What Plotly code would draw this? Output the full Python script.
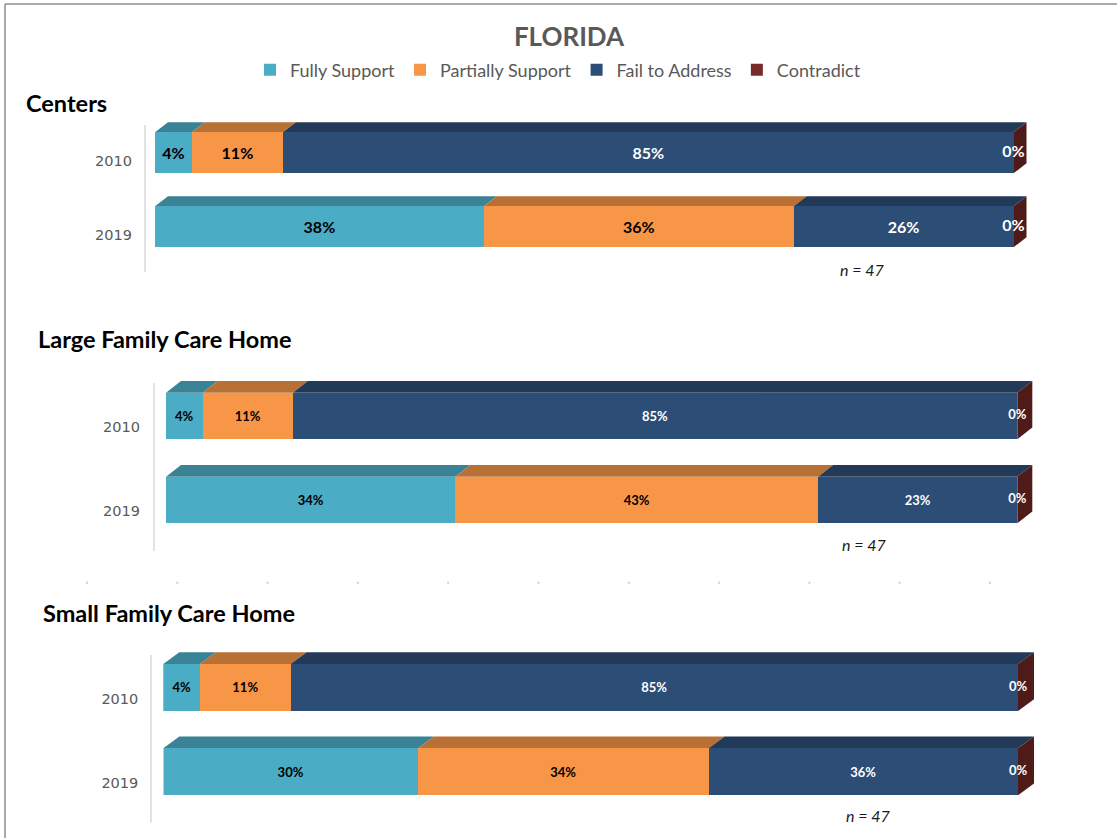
import plotly.graph_objects as go

# ---------------- data ----------------
panels = ["Centers", "Large Family Care Home", "Small Family Care Home"]
years = ["2010", "2019"]
series = ["Fully Support", "Partially Support", "Fail to Address", "Contradict"]
fully_support = [[4.3, 38.3], [4.3, 34.0], [4.3, 29.8]]
partially_support = [[10.6, 36.1], [10.6, 42.6], [10.6, 34.0]]
fail_to_address = [[85.1, 25.6], [85.1, 23.4], [85.1, 36.2]]
contradict = [[0, 0], [0, 0], [0, 0]]
sample_size = [47, 47, 47]

values = [fully_support, partially_support, fail_to_address, contradict]

# ---------------- style ----------------
front_colors = ["#4BACC6", "#F79646", "#2C4D75", "#772C2A"]
top_colors = ["#3A8397", "#B97035", "#223A58", "#4E1B18"]
label_colors = ["black", "black", "white", "white"]

W, H = 1117, 838
XMAX = 104
Y_BOTTOM, Y_TOP = 1.55, -0.75
ypos = [0, 1]

geo = [
    dict(x0=155, pxu=8.585, yc=152.8, pyu=74.0, bar=41, dx=13, dy=10, lab=16, toff=0.11,
         axis_x=145, axis_y=(125, 272), title_xy=(24, 103), n_xy=(862, 270), standoff=22),
    dict(x0=166, pxu=8.513, yc=416.0, pyu=84.0, bar=46.6, dx=15, dy=11.7, lab=13, toff=0.127,
         axis_x=154, axis_y=(383, 551), title_xy=(36, 339), n_xy=(865, 544), standoff=25),
    dict(x0=163.3, pxu=8.547, yc=687.5, pyu=84.2, bar=47, dx=16, dy=11.7, lab=13, toff=0.133,
         axis_x=151, axis_y=(655, 822.7), title_xy=(41, 613), n_xy=(868, 815), standoff=24),
]

fig = go.Figure()
layout = dict(
    width=W, height=H, margin=dict(l=0, r=0, t=0, b=0),
    paper_bgcolor="white", plot_bgcolor="white",
    barmode="stack", hovermode=False,
    title=dict(text="<b>FLORIDA</b>", x=569 / W, y=1 - 37 / H, xanchor="center", yanchor="middle",
               font=dict(family="Lato", size=26, color="#595959")),
    legend=dict(orientation="h", x=558 / W, xanchor="center", y=1 - 70 / H, yanchor="middle",
                font=dict(family="Lato", size=18, color="#595959"), bgcolor="rgba(0,0,0,0)",
                traceorder="normal", itemclick=False, itemdoubleclick=False),
)
shapes = []
annotations = []

for i, g in enumerate(geo):
    sfx = "" if i == 0 else str(i + 1)
    xa, ya = "x" + sfx, "y" + sfx
    w = g["bar"] / g["pyu"]
    dxu = g["dx"] / g["pxu"]
    dyu = g["dy"] / g["pyu"]

    layout["xaxis" + sfx] = dict(
        domain=[g["x0"] / W, (g["x0"] + XMAX * g["pxu"]) / W], range=[0, XMAX],
        anchor=ya, showgrid=False, zeroline=False, showticklabels=False, showline=False,
        fixedrange=True)
    layout["yaxis" + sfx] = dict(
        domain=[1 - (g["yc"] + Y_BOTTOM * g["pyu"]) / H, 1 - (g["yc"] + Y_TOP * g["pyu"]) / H],
        range=[Y_BOTTOM, Y_TOP], anchor=xa, showgrid=False, zeroline=False, showline=False,
        tickvals=[p + g["toff"] for p in ypos], ticktext=years, ticks="",
        ticklabelstandoff=g["standoff"],
        tickfont=dict(family="DejaVu Sans", size=14.5, color="#595959"), fixedrange=True)

    cum = [0.0, 0.0]
    for j, name in enumerate(series):
        vals = values[j][i]
        bar_kw = dict(
            x=vals, y=ypos, orientation="h", width=w, name=name, legendgroup=name,
            showlegend=(i == 0), marker=dict(color=front_colors[j], line=dict(width=0)),
            xaxis=xa, yaxis=ya)
        if j < 3:
            bar_kw.update(texttemplate="%{x:.0f}%", textposition="inside",
                          insidetextanchor="middle", textangle=0, constraintext="none",
                          insidetextfont=dict(family="Lato", size=g["lab"], color=label_colors[j],
                                              weight="bold"))
        else:
            bar_kw.update(textposition="none")
        fig.add_trace(go.Bar(**bar_kw))

        # top faces (3D look), computed from the data
        for k, yv in enumerate(ypos):
            a, b = cum[k], cum[k] + vals[k]
            yt = yv - w / 2
            if b > a:
                shapes.append(dict(
                    type="path", xref=xa, yref=ya, layer="below", line=dict(width=0),
                    fillcolor=top_colors[j],
                    path=f"M {a},{yt} L {b},{yt} L {b + dxu},{yt - dyu} L {a + dxu},{yt - dyu} Z"))
            cum[k] = b

    # right side faces (Contradict colour) and Contradict labels at bar end
    for k, yv in enumerate(ypos):
        e = cum[k]
        yt, yb = yv - w / 2, yv + w / 2
        shapes.append(dict(
            type="path", xref=xa, yref=ya, layer="below", line=dict(width=0),
            fillcolor=top_colors[3],
            path=f"M {e},{yt} L {e + dxu},{yt - dyu} L {e + dxu},{yb - dyu} L {e},{yb} Z"))
    fig.add_trace(go.Scatter(
        x=cum, y=ypos, mode="text", customdata=contradict[i], texttemplate="%{customdata:.0f}%",
        textposition="middle center", showlegend=False, xaxis=xa, yaxis=ya, cliponaxis=False,
        textfont=dict(family="Lato", size=g["lab"], color="white", weight="bold")))

    # vertical category axis line
    shapes.append(dict(type="line", xref="paper", yref="paper",
                       x0=g["axis_x"] / W, x1=g["axis_x"] / W,
                       y0=1 - g["axis_y"][0] / H, y1=1 - g["axis_y"][1] / H,
                       line=dict(color="#D9D9D9", width=1.5)))
    annotations.append(dict(
        text=f"<b>{panels[i]}</b>", xref="paper", yref="paper",
        x=g["title_xy"][0] / W, y=1 - g["title_xy"][1] / H, xanchor="left", yanchor="middle",
        showarrow=False, font=dict(family="Lato", size=23.5, color="black")))
    annotations.append(dict(
        text=f"<i>n = {sample_size[i]}</i>", xref="paper", yref="paper",
        x=g["n_xy"][0] / W, y=1 - g["n_xy"][1] / H, xanchor="center", yanchor="middle",
        showarrow=False, font=dict(family="Lato", size=16, color="#1a1a1a")))

# faint dotted remnant between panels
shapes.append(dict(type="line", xref="paper", yref="paper", x0=86 / W, x1=1031 / W,
                   y0=1 - 582.7 / H, y1=1 - 582.7 / H,
                   line=dict(color="#D0D0D0", width=2, dash="2px,88.3px")))
# frame
shapes.append(dict(type="line", xref="paper", yref="paper", x0=5 / W, x1=1, y0=1 - 4 / H, y1=1 - 4 / H,
                   line=dict(color="#8C8C8C", width=1.5)))
shapes.append(dict(type="line", xref="paper", yref="paper", x0=5 / W, x1=5 / W, y0=1 - 4 / H, y1=0,
                   line=dict(color="#8C8C8C", width=1.5)))

layout["shapes"] = shapes
layout["annotations"] = annotations
fig.update_layout(**layout)

fig.write_html("out.html", config={"displayModeBar": False},
               post_script="document.body.style.margin='0';document.body.style.overflow='hidden';")
